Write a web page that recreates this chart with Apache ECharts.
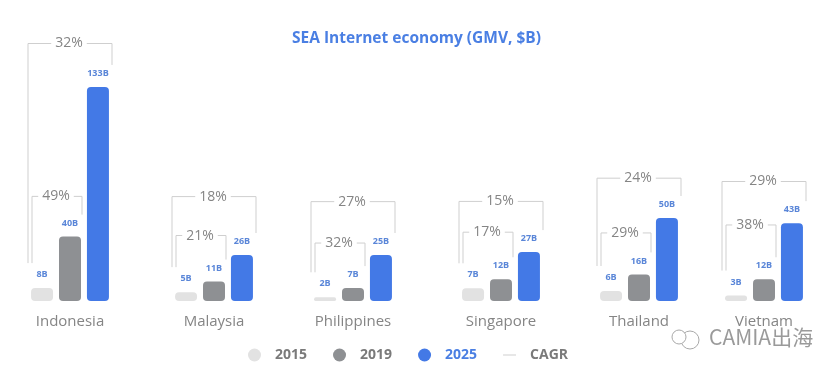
<!DOCTYPE html>
<html>
<head>
<meta charset="utf-8">
<style>
  html, body { margin: 0; padding: 0; background: #fff; }
  #main { width: 840px; height: 377px; }
</style>
<script src="https://cdn.jsdelivr.net/npm/echarts@6/dist/echarts.min.js"></script>
</head>
<body>
<div id="main"></div>
<script>
var countries = ['Indonesia', 'Malaysia', 'Philippines', 'Singapore', 'Thailand', 'Vietnam']
var years = ['2015', '2019', '2025']
var gmv2015 = [8, 5, 2, 7, 6, 3]
var gmv2019 = [40, 11, 7, 12, 16, 12]
var gmv2025 = [133, 26, 25, 27, 50, 43]

var cagrLong = ['32%', '18%', '27%', '15%', '24%', '29%']   // 2015-2025
var cagrShort = ['49%', '21%', '32%', '17%', '29%', '38%']  // 2015-2019

// bracket heights, in $B of each panel's own axis
var longLevel = [160, 59, 54, 55, 74, 66]
var shortLevel = [65, 37, 31.5, 38, 41, 42]

// the source draws every country to a slightly different scale, so each panel has its own max
var panelMax = [174.6, 158.8, 152.7, 155.2, 169.3, 155.2]
var panelLeft = [31, 175, 314, 462, 600, 725]

var gridTop = 20, gridHeight = 281, panelWidth = 78
var greyText = '#858585', bracketColor = '#cfcfcf'
var colors = ['#e2e2e2', '#8e9093', '#4379e6']
var fontName = '"Open Sans", sans-serif'

function bracketRenderer(i) {
  return function (params, api) {
    var isLong = params.dataIndex === 0
    var base = api.coord([0, isLong ? longLevel[i] : shortLevel[i]])
    var cx = base[0], top = base[1]
    var x0 = isLong ? cx - 42 : cx - 38
    var x1 = isLong ? cx + 42 : cx + 12
    var leftEnd = api.coord([0, gmv2015[i]])[1] - 25
    var rightEnd = api.coord([0, isLong ? gmv2025[i] : gmv2019[i]])[1] - 22
    return {
      type: 'group',
      children: [{
        type: 'polyline',
        shape: { points: [[x0, leftEnd], [x0, top], [x1, top], [x1, rightEnd]] },
        style: { stroke: bracketColor, lineWidth: 1, fill: null }
      }, {
        type: 'text',
        z2: 10,
        style: {
          text: isLong ? cagrLong[i] : cagrShort[i],
          x: (x0 + x1) / 2 - 1, y: top,
          align: 'center', verticalAlign: 'middle',
          fill: greyText, font: '14px ' + fontName,
          backgroundColor: '#fff', padding: [0, 4]
        }
      }]
    }
  }
}

var grids = [], xAxes = [], yAxes = [], series = []
countries.forEach(function (name, i) {
  grids.push({ left: panelLeft[i], top: gridTop, width: panelWidth, height: gridHeight })
  xAxes.push({
    type: 'category', gridIndex: i, data: [name],
    axisLine: { show: false }, axisTick: { show: false },
    axisLabel: { color: greyText, fontSize: 15, fontFamily: fontName, margin: 13 }
  })
  yAxes.push({ type: 'value', gridIndex: i, min: 0, max: panelMax[i], show: false })

  ;[gmv2015, gmv2019, gmv2025].forEach(function (values, k) {
    series.push({
      name: years[k], type: 'bar', xAxisIndex: i, yAxisIndex: i,
      barWidth: 22, barGap: '27%',
      data: [values[i]],
      itemStyle: { color: colors[k], borderRadius: 4 },
      label: {
        show: true, position: 'top', distance: 9, formatter: '{c}B',
        color: '#5a86d8', fontSize: 9, fontWeight: 'bold', fontFamily: fontName
      },
      z: 3
    })
  })
  series.push({
    name: 'CAGR', type: 'custom', xAxisIndex: i, yAxisIndex: i,
    data: [[0, longLevel[i]], [0, shortLevel[i]]],
    renderItem: bracketRenderer(i),
    itemStyle: { color: bracketColor },
    silent: true, z: 2
  })
})

var myChart = echarts.init(document.getElementById('main'))
myChart.setOption({
  animation: false,
  title: {
    text: 'SEA Internet economy (GMV, $B)',
    left: 287, top: 26,
    textStyle: { color: '#4a7fe3', fontSize: 15.5, fontWeight: 'bold', fontFamily: fontName }
  },
  legend: {
    left: 243, top: 343,
    selectedMode: false,
    itemWidth: 13, itemHeight: 13, itemGap: 26,
    textStyle: { color: '#7a7a7a', fontSize: 14, fontWeight: 'bold', fontFamily: fontName, padding: [0, 0, 0, 9] },
    data: [
      { name: '2015', icon: 'circle' },
      { name: '2019', icon: 'circle' },
      { name: '2025', icon: 'circle', textStyle: { color: '#4a7fe3' } },
      { name: 'CAGR', icon: 'path://M0,0H13V1H0Z' }
    ]
  },
  grid: grids,
  xAxis: xAxes,
  yAxis: yAxes,
  series: series,
  graphic: [
    // watermark, bottom right
    { type: 'circle', shape: { cx: 690, cy: 340, r: 9 }, style: { fill: 'none', stroke: '#a8a8a8', lineWidth: 1 }, z: 20 },
    { type: 'circle', shape: { cx: 679, cy: 337, r: 7 }, style: { fill: '#fff', stroke: '#a8a8a8', lineWidth: 1 }, z: 20 },
    {
      type: 'text', left: 709, top: 327, z: 20,
      style: { text: 'CAMIA出海', fill: '#9a9a9a', font: '21px "Noto Sans CJK SC", sans-serif' }
    }
  ]
})
</script>
</body>
</html>
